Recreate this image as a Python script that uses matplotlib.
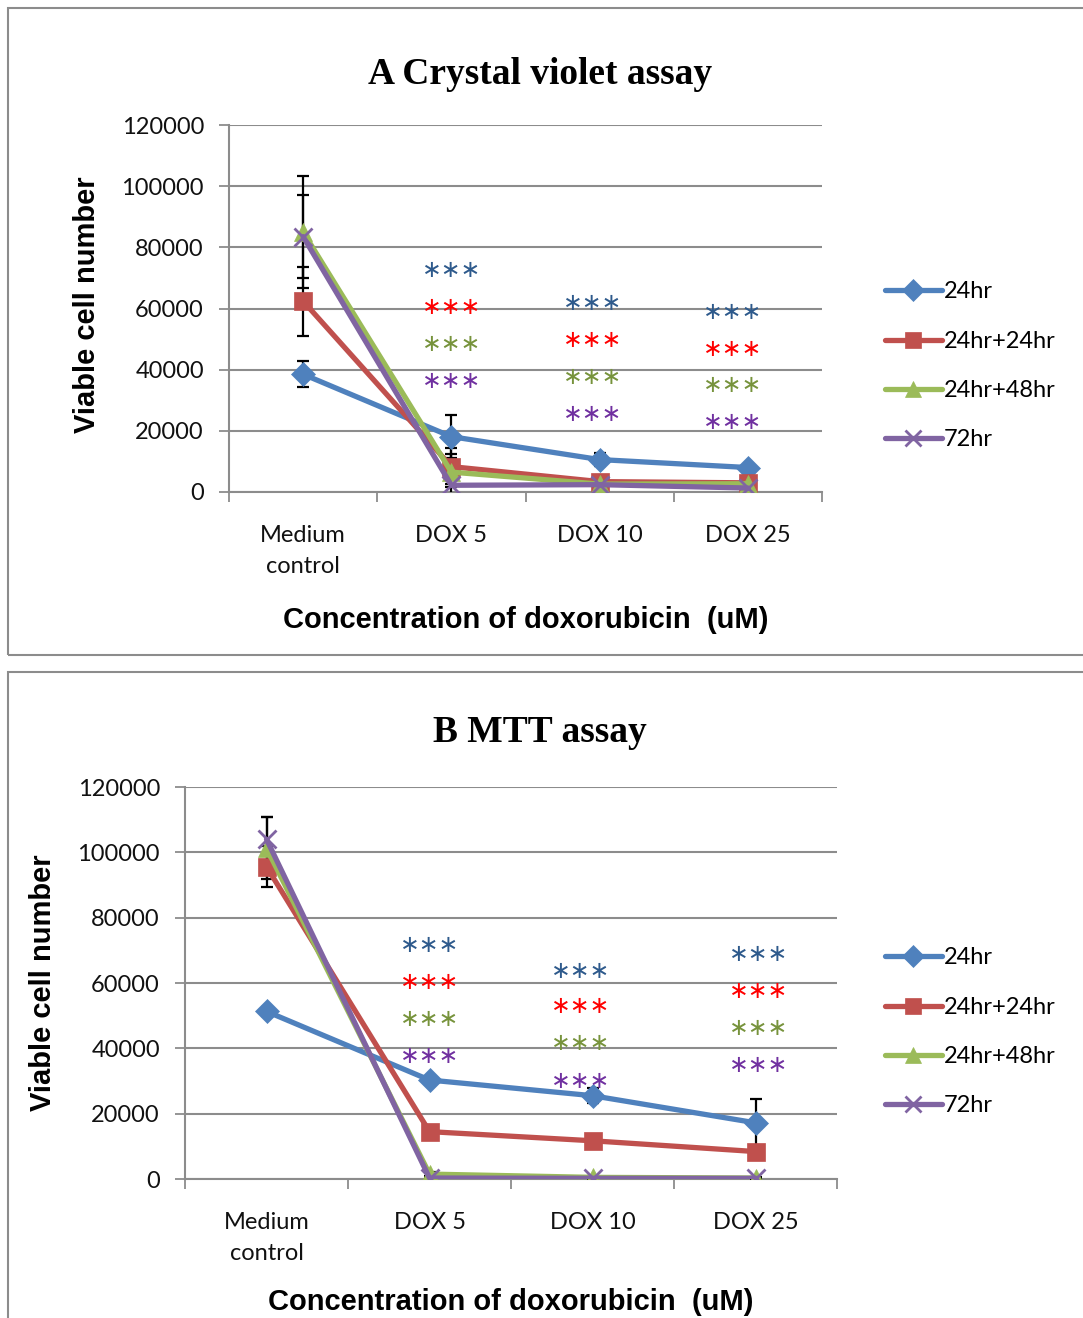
import matplotlib
matplotlib.use("Agg")
import matplotlib.pyplot as plt
from matplotlib.patches import Rectangle
from matplotlib.lines import Line2D
import numpy as np

categories = ["Medium\ncontrol", "DOX 5", "DOX 10", "DOX 25"]
series_names = ["24hr", "24hr+24hr", "24hr+48hr", "72hr"]

# Panel A: Crystal violet assay
a_24 = [38500, 18100, 10600, 8000]
a_24_24 = [62400, 8300, 3400, 3000]
a_24_48 = [85000, 6500, 2600, 2700]
a_72 = [83500, 2200, 2400, 1300]
a_err_24 = [4200, 7100, 2000, 800]
a_err_24_24 = [11300, 4200, 800, 800]
a_err_24_48 = [18300, 7900, 500, 500]
a_err_72 = [13600, 500, 300, 300]

# Panel B: MTT assay
b_24 = [51300, 30300, 25500, 17200]
b_24_24 = [95600, 14500, 11700, 8400]
b_24_48 = [101300, 1500, 500, 300]
b_72 = [104000, 300, 200, 200]
b_err_24 = [1500, 1000, 2300, 7300]
b_err_24_24 = [6200, 800, 800, 800]
b_err_24_48 = [9500, 500, 300, 300]
b_err_72 = [6800, 300, 200, 200]

# significance stars (x position in category units, y in data units)
a_star_x = [1.0, 1.95, 2.9]
a_star_y = [[72600, 60500, 48400, 36300],
            [61800, 49700, 37600, 25500],
            [58900, 46800, 35000, 22900]]
b_star_x = [1.0, 1.93, 3.02]
b_star_y = [[71600, 60200, 49000, 37600],
            [63800, 53000, 41500, 30100],
            [68900, 57500, 46100, 34900]]

colors = ["#4F81BD", "#C0504D", "#9BBB59", "#8064A2"]
star_colors = ["#2E5A8C", "#FF0000", "#77933C", "#7030A0"]
markers = ["D", "s", "^", "x"]
msizes = [12, 13, 13, 13]

W, H = 1083, 1318
fig = plt.figure(figsize=(W / 100, H / 100), dpi=100)

# panel frames
for (x0, y0, x1, y1) in [(8, 8, 1095, 655), (8, 672, 1095, 1330)]:
    fig.patches.append(Rectangle((x0 / W, 1 - y1 / H), (x1 - x0) / W, (y1 - y0) / H,
                                 transform=fig.transFigure, fill=False,
                                 edgecolor="#8C8C8C", linewidth=1.5))

TICKFONT = "Lato"


def draw_panel(rect, data, errs, star_x, star_y, title, title_xy, xlab_xy, ylab_xy, leg_xy):
    ax = fig.add_axes(rect)
    x = np.arange(len(categories))
    handles = []
    for i, (vals, e) in enumerate(zip(data, errs)):
        ax.errorbar(x, vals, yerr=e, fmt="none", ecolor="black", elinewidth=1.6,
                    capsize=4.5, capthick=1.6, zorder=3)
    for i, vals in enumerate(data):
        ax.plot(x, vals, color=colors[i], linewidth=3.8, marker=markers[i],
                markersize=msizes[i], markerfacecolor=colors[i],
                markeredgecolor=colors[i], markeredgewidth=2 if markers[i] == "x" else 0.5,
                zorder=4 + (i == 3), solid_capstyle="round")
        handles.append(Line2D([], [], color=colors[i], linewidth=3.8, marker=markers[i],
                              markersize=msizes[i] - 1, markeredgecolor=colors[i],
                              markeredgewidth=2 if markers[i] == "x" else 0.5,
                              solid_capstyle="round"))
    ax.set_xlim(-0.5, 3.5)
    ax.set_ylim(0, 120000)
    ax.set_yticks(np.arange(0, 120001, 20000))
    ax.set_yticklabels([str(v) for v in range(0, 120001, 20000)], fontfamily=TICKFONT, fontsize=17)
    ax.set_xticks(x)
    ax.set_xticklabels(categories, fontfamily=TICKFONT, fontsize=17, linespacing=1.55)
    ax.set_xticks(np.arange(-0.5, 3.6, 1.0), minor=True)
    ax.tick_params(axis="x", which="major", length=0, pad=24, labelcolor="#111111")
    ax.tick_params(axis="x", which="minor", length=7, width=1.3, color="#8C8C8C", direction="out")
    ax.tick_params(axis="y", length=7, width=1.3, color="#8C8C8C", pad=11, labelcolor="#111111")
    for side in ["top", "right"]:
        ax.spines[side].set_visible(False)
    for side in ["left", "bottom"]:
        ax.spines[side].set_color("#8C8C8C")
        ax.spines[side].set_linewidth(1.5)
    ax.yaxis.grid(True, color="#8C8C8C", linewidth=1.5)
    ax.set_axisbelow(True)
    for sx, ys in zip(star_x, star_y):
        for j, sy in enumerate(ys):
            ax.text(sx, sy, "\u2217\u2217\u2217", color=star_colors[j], fontsize=17,
                    ha="center", va="center", fontfamily="DejaVu Sans", zorder=6)
    fig.text(title_xy[0] / W, 1 - title_xy[1] / H, title, fontfamily="Liberation Serif",
             fontweight="bold", fontsize=27, ha="center", va="center")
    fig.text(xlab_xy[0] / W, 1 - xlab_xy[1] / H, "Concentration of doxorubicin  (uM)",
             fontfamily="Liberation Sans", fontweight="bold", fontsize=21, ha="center", va="center")
    fig.text(ylab_xy[0] / W, 1 - ylab_xy[1] / H, "Viable cell number",
             fontfamily="Liberation Sans", fontweight="bold", fontsize=21, ha="center",
             va="center", rotation=90)
    fig.legend(handles, series_names, loc="center left",
               bbox_to_anchor=(leg_xy[0] / W, 1 - leg_xy[1] / H), frameon=False,
               prop={"family": TICKFONT, "size": 17}, handlelength=2.4,
               handletextpad=0.1, labelspacing=1.2, borderaxespad=0, borderpad=0)
    return ax


draw_panel([229 / W, 1 - 492 / H, 593 / W, 367 / H],
           [a_24, a_24_24, a_24_48, a_72],
           [a_err_24, a_err_24_24, a_err_24_48, a_err_72],
           a_star_x, a_star_y, "A Crystal violet assay", (540, 75), (526, 620), (87, 305), (885, 366))
draw_panel([185 / W, 1 - 1179 / H, 652 / W, 392 / H],
           [b_24, b_24_24, b_24_48, b_72],
           [b_err_24, b_err_24_24, b_err_24_48, b_err_72],
           b_star_x, b_star_y, "B MTT assay", (540, 732), (511, 1302), (43, 983), (885, 1032))

fig.savefig("out.png", dpi=100)
